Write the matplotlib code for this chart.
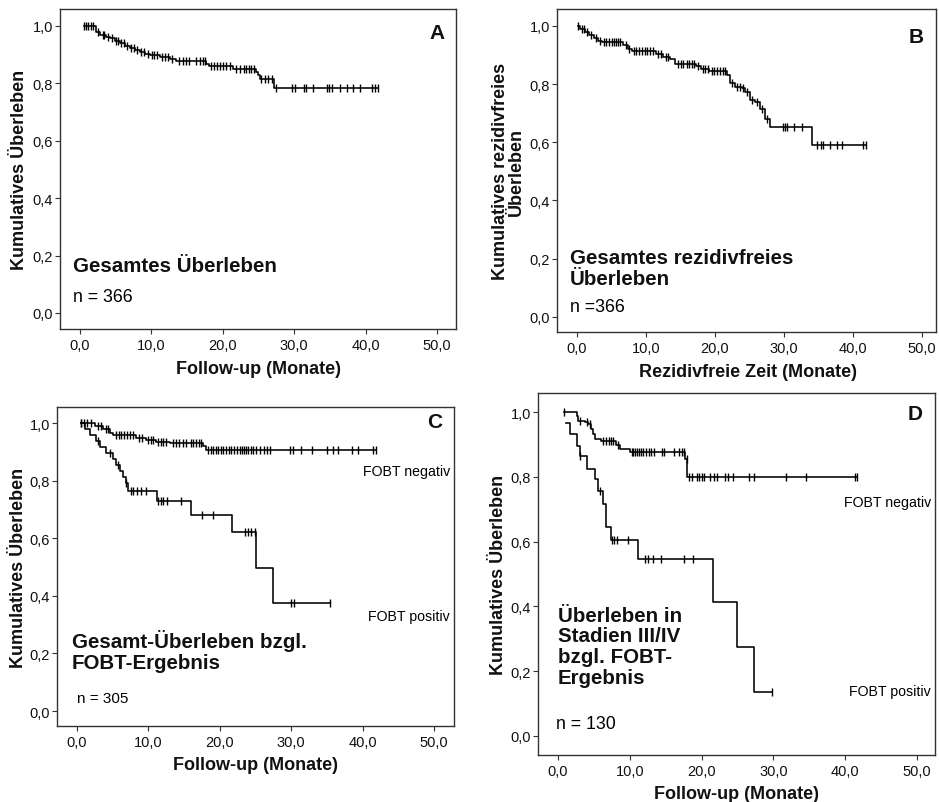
"""Kaplan-Meier Kurven (Gesamt-/rezidivfreies Ueberleben, FOBT) in 4 Panels."""
import numpy as np
import matplotlib
matplotlib.use("Agg")
import matplotlib.pyplot as plt
import matplotlib.ticker as mticker

plt.rcParams["font.family"] = ["Liberation Sans", "DejaVu Sans"]

W, H = 939, 803

# ---- Panel A: Gesamtes Ueberleben (n = 366) ----
a_times = [0.5, 2.3, 2.8, 3.6, 4.2, 4.9, 5.6, 6.3, 7.0, 7.7, 8.4, 9.1, 9.8, 11.2,
           12.6, 13.5, 17.7, 18.0, 21.4, 24.6, 24.9, 25.2, 27.2]
a_surv = [1.0, 0.978, 0.969, 0.963, 0.957, 0.949, 0.940, 0.929, 0.922, 0.917, 0.908,
          0.903, 0.900, 0.893, 0.885, 0.879, 0.868, 0.862, 0.850, 0.840, 0.828,
          0.816, 0.785]
a_cens = [0.5, 0.8, 1.1, 1.5, 1.8, 2.5, 3.2, 3.4, 3.9, 4.5, 5.0, 5.3, 5.8, 6.1, 6.6,
          7.2, 7.5, 8.0, 8.6, 9.0, 9.5, 10.1, 10.4, 10.8, 11.5, 11.9, 12.3, 12.9,
          13.8, 14.4, 14.8, 15.3, 16.3, 16.8, 17.2, 17.5, 18.4, 18.8, 19.2, 19.6,
          20.0, 20.5, 21.0, 21.9, 22.4, 22.9, 23.3, 23.7, 24.0, 24.3, 25.4, 25.9,
          26.4, 26.9, 27.5, 29.7, 30.1, 31.4, 31.7, 32.6, 34.6, 34.9, 35.3, 36.4,
          37.4, 38.2, 39.2, 40.9, 41.3, 41.7]

# ---- Panel B: Gesamtes rezidivfreies Ueberleben (n = 366) ----
b_times = [0.2, 0.5, 1.2, 1.8, 2.4, 3.1, 3.6, 6.7, 7.4, 7.9, 11.5, 12.5, 13.5, 14.2,
           17.3, 18.0, 19.2, 21.7, 22.2, 22.9, 23.9, 24.4, 25.1, 25.8, 26.5, 27.2,
           27.9, 34.0]
b_surv = [1.0, 0.990, 0.978, 0.967, 0.957, 0.947, 0.944, 0.935, 0.922, 0.912, 0.905,
          0.893, 0.885, 0.870, 0.862, 0.853, 0.845, 0.830, 0.802, 0.790, 0.785,
          0.773, 0.745, 0.739, 0.716, 0.681, 0.652, 0.589]
b_cens = [0.2, 0.7, 1.0, 1.5, 2.1, 2.7, 3.3, 3.9, 4.2, 4.6, 5.0, 5.3, 5.7, 6.0, 6.3,
          7.1, 7.6, 8.2, 8.6, 9.0, 9.4, 9.8, 10.2, 10.6, 11.0, 11.8, 12.2, 12.9,
          13.2, 14.6, 15.0, 15.4, 15.9, 16.3, 16.7, 17.0, 17.6, 18.3, 18.6, 19.0,
          19.5, 19.9, 20.3, 20.7, 21.1, 21.4, 22.5, 23.2, 23.6, 24.1, 24.7, 25.4,
          26.1, 26.8, 27.5, 29.8, 30.1, 30.5, 31.4, 32.6, 34.8, 35.3, 35.7, 36.7,
          37.7, 38.4, 41.5, 41.9]

# ---- Panel C: Gesamt-Ueberleben bzgl. FOBT (n = 305) ----
c_neg_times = [0.6, 2.5, 3.7, 4.6, 5.1, 8.3, 9.7, 11.1, 13.0, 17.6, 18.1]
c_neg_surv = [1.0, 0.990, 0.979, 0.967, 0.959, 0.950, 0.942, 0.935, 0.932, 0.921, 0.905]
c_neg_cens = [0.6, 1.0, 1.4, 1.9, 3.0, 3.3, 4.0, 4.3, 5.5, 5.9, 6.2, 6.6, 7.0, 7.4,
              7.8, 8.7, 9.1, 10.0, 10.3, 10.6, 11.4, 11.7, 12.0, 12.4, 13.4, 13.8,
              14.3, 14.8, 15.3, 15.9, 16.3, 16.7, 17.1, 17.4, 18.4, 18.7, 19.0, 19.4,
              19.8, 20.1, 20.5, 20.9, 21.3, 21.6, 22.0, 22.4, 22.8, 23.1, 23.4, 23.7,
              24.0, 24.3, 24.7, 25.1, 25.6, 26.2, 26.6, 27.0, 29.8, 30.2, 31.4, 32.9,
              35.0, 35.9, 36.6, 38.5, 39.4, 41.5, 41.9]
c_pos_times = [0.5, 1.1, 1.8, 2.7, 3.2, 4.1, 5.0, 5.5, 6.0, 6.4, 6.8, 7.2, 11.2, 16.0,
               21.7, 25.0, 27.5]
c_pos_surv = [1.0, 0.979, 0.959, 0.938, 0.917, 0.896, 0.875, 0.854, 0.833, 0.812,
              0.791, 0.765, 0.730, 0.680, 0.622, 0.498, 0.374]
c_pos_cens = [0.5, 2.9, 4.6, 5.7, 6.9, 7.6, 7.9, 8.4, 9.0, 9.6, 11.4, 11.7, 12.1, 12.6,
              14.5, 17.5, 19.1, 23.5, 24.0, 24.4, 24.9, 30.0, 30.4, 35.4]

# ---- Panel D: Ueberleben Stadien III/IV bzgl. FOBT (n = 130) ----
d_neg_times = [0.9, 2.6, 2.8, 3.7, 4.2, 4.65, 4.9, 5.1, 6.05, 8.1, 8.6, 10.0, 17.7, 18.0]
d_neg_surv = [1.0, 0.988, 0.974, 0.970, 0.962, 0.949, 0.931, 0.918, 0.911, 0.897,
              0.885, 0.877, 0.854, 0.801]
d_neg_cens = [0.9, 3.0, 4.0, 4.4, 6.3, 6.7, 7.1, 7.4, 7.7, 8.4, 10.3, 10.5, 10.7, 11.0,
              11.3, 11.5, 11.9, 12.3, 12.6, 12.9, 13.3, 14.5, 14.7, 16.1, 16.8, 17.3,
              17.5, 17.9, 18.2, 18.7, 19.4, 19.7, 20.0, 20.3, 21.2, 21.7, 22.2, 23.3,
              23.7, 24.3, 26.6, 27.3, 31.7, 34.5, 41.4, 41.7]
d_pos_times = [1.15, 1.6, 2.6, 3.0, 4.0, 5.1, 5.6, 6.2, 6.65, 7.4, 11.2, 21.6, 24.9, 27.3]
d_pos_surv = [0.967, 0.931, 0.895, 0.864, 0.825, 0.793, 0.757, 0.716, 0.644, 0.605,
              0.546, 0.413, 0.274, 0.136]
d_pos_cens = [3.1, 5.8, 7.5, 7.8, 8.2, 9.8, 12.1, 12.5, 13.2, 14.4, 17.5, 18.8, 29.8]

x_ticks = [0, 10, 20, 30, 40, 50]
y_ticks = [0.0, 0.2, 0.4, 0.6, 0.8, 1.0]


def px_rect(l, t, r, b):
    return [l / W, (H - b) / H, (r - l) / W, (b - t) / H]


def km_curve(ax, times, surv, cens):
    t = np.asarray(times, float)
    s = np.asarray(surv, float)
    c = np.asarray(cens, float)
    end = max(t[-1], c.max())
    tt = np.append(t, end)
    ss = np.append(s, s[-1])
    ax.step(tt, ss, where="post", color="black", lw=1.15)
    idx = np.searchsorted(t, c, side="right") - 1
    idx = np.clip(idx, 0, len(s) - 1)
    ax.plot(c, s[idx], ls="none", marker="|", ms=6, mew=1.0, color="black")


def style(ax, xlim, ylim):
    ax.set_xlim(*xlim)
    ax.set_ylim(*ylim)
    ax.set_xticks(x_ticks)
    ax.set_yticks(y_ticks)
    fmt = mticker.FuncFormatter(lambda v, p: f"{v:.1f}".replace(".", ","))
    ax.xaxis.set_major_formatter(fmt)
    ax.yaxis.set_major_formatter(fmt)
    ax.tick_params(direction="out", length=3.5, width=0.8, labelsize=10.5,
                   color="#333333", labelcolor="#111111")
    ax.tick_params(axis="y", pad=1.5)
    ax.tick_params(axis="x", pad=3)
    for sp in ax.spines.values():
        sp.set_color("#333333")
        sp.set_linewidth(1.0)


fig = plt.figure(figsize=(W / 100, H / 100), dpi=100)
fig.patch.set_facecolor("white")
lab = dict(fontsize=13, fontweight="bold", color="#111111")
big = dict(fontsize=14.8, fontweight="bold", color="#111111", linespacing=1.12)
letter = dict(fontsize=15, fontweight="bold", color="#111111", ha="right", va="center")

# Panel A
ax = fig.add_axes(px_rect(60, 10, 456, 330))
km_curve(ax, a_times, a_surv, a_cens)
style(ax, (-2.8, 52.66), (-0.056, 1.059))
ax.set_ylabel("Kumulatives Überleben", **lab)
ax.yaxis.set_label_coords(-0.081, 0.5)
ax.set_xlabel("Follow-up (Monate)", **lab)
ax.xaxis.set_label_coords(0.5, -0.098)
ax.text(0.972, 0.928, "A", transform=ax.transAxes, **letter)
ax.text(0.033, 0.197, "Gesamtes Überleben", transform=ax.transAxes, ha="left", va="center", **big)
ax.text(0.033, 0.100, "n = 366", transform=ax.transAxes, ha="left", va="center", fontsize=12.8)

# Panel B
ax = fig.add_axes(px_rect(557, 10, 936, 333))
km_curve(ax, b_times, b_surv, b_cens)
style(ax, (-2.9, 52.03), (-0.052, 1.058))
ax.set_ylabel("Kumulatives rezidivfreies\nÜberleben", linespacing=0.95, **lab)
ax.yaxis.set_label_coords(-0.084, 0.5)
ax.set_xlabel("Rezidivfreie Zeit (Monate)", **lab)
ax.xaxis.set_label_coords(0.505, -0.096)
ax.text(0.968, 0.916, "B", transform=ax.transAxes, **letter)
ax.text(0.034, 0.198, "Gesamtes rezidivfreies\nÜberleben", transform=ax.transAxes,
        ha="left", va="center", **big)
ax.text(0.034, 0.080, "n =366", transform=ax.transAxes, ha="left", va="center", fontsize=12.8)

# Panel C
ax = fig.add_axes(px_rect(57, 408, 454, 727))
km_curve(ax, c_neg_times, c_neg_surv, c_neg_cens)
km_curve(ax, c_pos_times, c_pos_surv, c_pos_cens)
style(ax, (-2.8, 52.8), (-0.052, 1.056))
ax.set_ylabel("Kumulatives Überleben", **lab)
ax.yaxis.set_label_coords(-0.076, 0.5)
ax.set_xlabel("Follow-up (Monate)", **lab)
ax.xaxis.set_label_coords(0.5, -0.094)
ax.text(0.97, 0.953, "C", transform=ax.transAxes, **letter)
ax.text(0.99, 0.80, "FOBT negativ", transform=ax.transAxes, ha="right", va="center", fontsize=10.2)
ax.text(0.99, 0.345, "FOBT positiv", transform=ax.transAxes, ha="right", va="center", fontsize=10.2)
ax.text(0.038, 0.237, "Gesamt-Überleben bzgl.\nFOBT-Ergebnis", transform=ax.transAxes,
        ha="left", va="center", **big)
ax.text(0.05, 0.088, "n = 305", transform=ax.transAxes, ha="left", va="center", fontsize=11)

# Panel D
ax = fig.add_axes(px_rect(538, 394, 935, 756))
km_curve(ax, d_neg_times, d_neg_surv, d_neg_cens)
km_curve(ax, d_pos_times, d_pos_surv, d_pos_cens)
style(ax, (-2.79, 52.5), (-0.059, 1.059))
ax.set_ylabel("Kumulatives Überleben", **lab)
ax.yaxis.set_label_coords(-0.078, 0.5)
ax.set_xlabel("Follow-up (Monate)", **lab)
ax.xaxis.set_label_coords(0.5, -0.083)
ax.text(0.97, 0.942, "D", transform=ax.transAxes, **letter)
ax.text(0.99, 0.699, "FOBT negativ", transform=ax.transAxes, ha="right", va="center", fontsize=10.2)
ax.text(0.99, 0.177, "FOBT positiv", transform=ax.transAxes, ha="right", va="center", fontsize=10.2)
ax.text(0.05, 0.30, "Überleben in\nStadien III/IV\nbzgl. FOBT-\nErgebnis", transform=ax.transAxes,
        ha="left", va="center", **big)
ax.text(0.045, 0.086, "n = 130", transform=ax.transAxes, ha="left", va="center", fontsize=12.8)

fig.savefig("out.png", dpi=100, facecolor="white")
